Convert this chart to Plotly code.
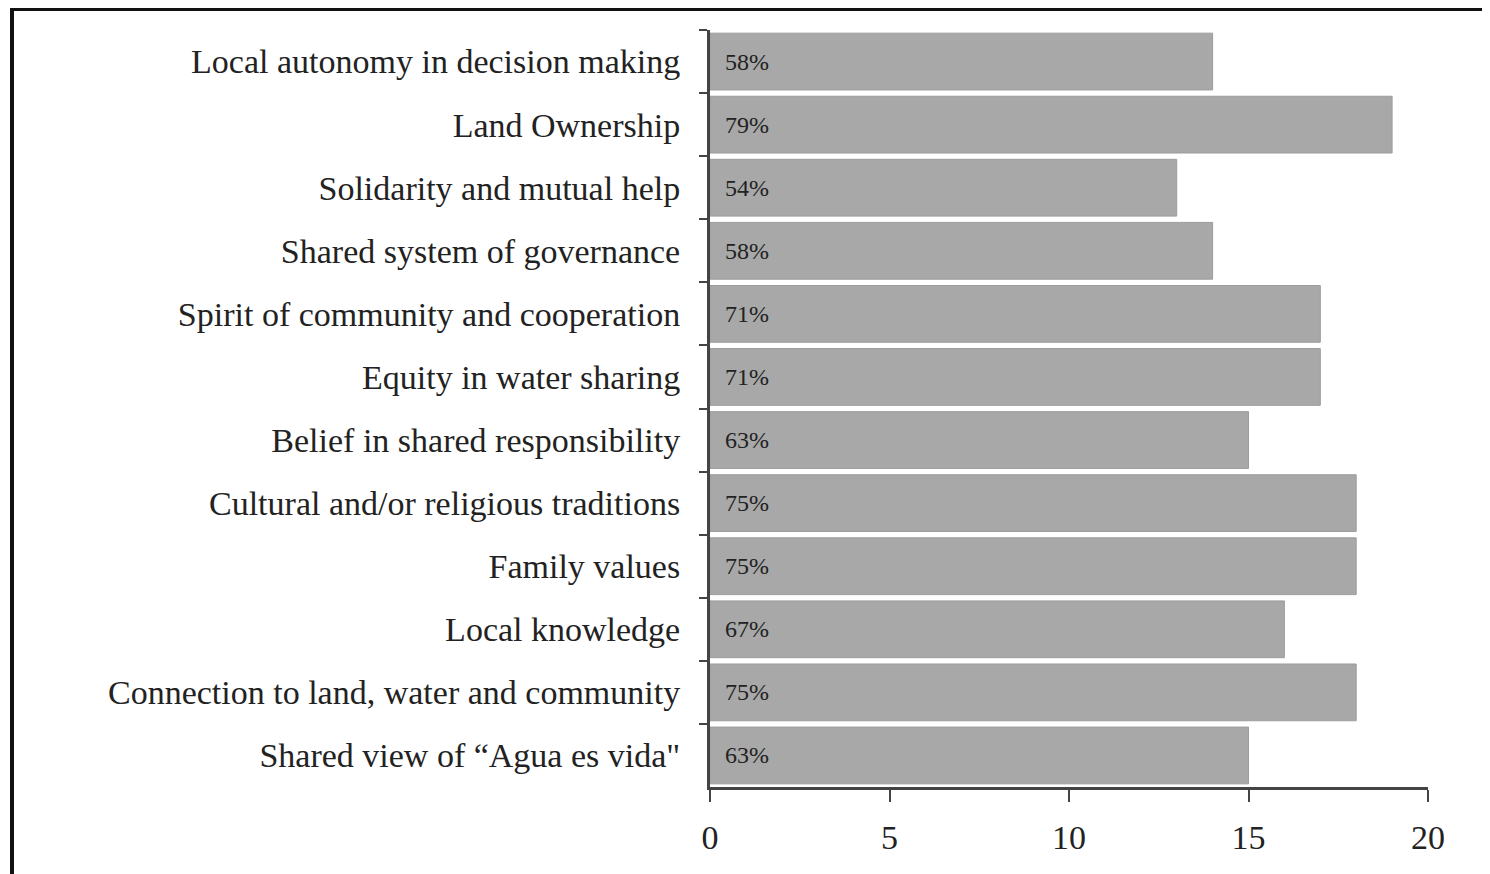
import plotly.graph_objects as go

categories = [
    "Local autonomy in decision making",
    "Land Ownership",
    "Solidarity and mutual help",
    "Shared system of governance",
    "Spirit of community and cooperation",
    "Equity in water sharing",
    "Belief in shared responsibility",
    "Cultural and/or religious traditions",
    "Family values",
    "Local knowledge",
    "Connection to land, water and community",
    "Shared view of \u201cAgua es vida\"",
]
counts = [14, 19, 13, 14, 17, 17, 15, 18, 18, 16, 18, 15]
pct_labels = ["58%", "79%", "54%", "58%", "71%", "71%", "63%", "75%", "75%", "67%", "75%", "63%"]
x_ticks = [0, 5, 10, 15, 20]

# page has an 8px body margin; figure size compensates
W, H = 1482, 866
ML, MR, MT, MB = 702, 62, 22, 87
pw, ph = W - ML - MR, H - MT - MB

fig = go.Figure(go.Bar(
    y=categories, x=counts, orientation="h",
    marker=dict(color="#a8a8a8", line=dict(color="#9c9c9c", width=1)),
    width=0.9,
    cliponaxis=False, hoverinfo="skip",
))

for cat, lab in zip(categories, pct_labels):
    fig.add_annotation(x=0, y=cat, text=lab, showarrow=False, xanchor="left", xshift=13,
                       font=dict(family="Liberation Serif", size=24, color="#222"))

fig.update_layout(
    width=W, height=H,
    margin=dict(l=ML, r=MR, t=MT, b=MB),
    paper_bgcolor="white", plot_bgcolor="white",
    showlegend=False,
    font=dict(family="Liberation Serif", color="#222"),
    bargap=0.1,
)
fig.update_yaxes(
    autorange="reversed", showgrid=False, showline=True, linecolor="#444", linewidth=3,
    ticks="outside", tickson="boundaries", ticklen=8, tickwidth=2, tickcolor="#444",
    tickfont=dict(family="Liberation Serif", size=34, color="#222"), ticklabelstandoff=20,
)
fig.update_xaxes(
    range=[0, 20], tickvals=x_ticks, ticktext=[str(v) for v in x_ticks],
    showgrid=False, zeroline=False, showline=True, linecolor="#444", linewidth=3,
    ticks="outside", ticklen=12, tickwidth=2, tickcolor="#444",
    tickfont=dict(family="Liberation Serif", size=34, color="#222"), ticklabelstandoff=6,
)

# outer frame (extends past the right and bottom edges, as in the reference)
fx0, fx1 = (4 - ML) / pw, (1500 - ML) / pw
fy1, fy0 = 1 - (1 - MT) / ph, 1 - (880 - MT) / ph
fig.add_shape(type="rect", xref="paper", yref="paper", x0=fx0, x1=fx1, y0=fy0, y1=fy1,
              line=dict(color="#111", width=4), layer="below")

fig.write_html("out.html")
